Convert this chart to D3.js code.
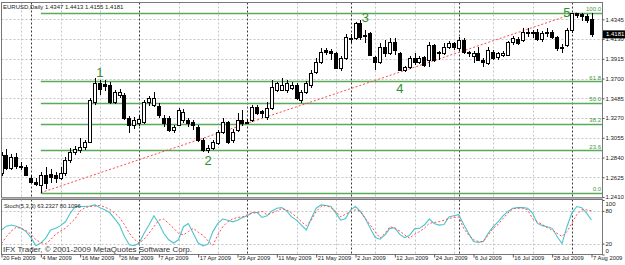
<!DOCTYPE html>
<html><head><meta charset="utf-8">
<script src="https://cdn.jsdelivr.net/npm/d3@7"></script>
<style>body{margin:0;background:#fff;} svg{display:block;font-family:"Liberation Sans",Arial,sans-serif;}</style>
</head><body>
<svg id="c" width="625" height="265"></svg>
<script>
const dates = [
"2009-02-20","2009-02-23","2009-02-24","2009-02-25","2009-02-26","2009-02-27",
"2009-03-02","2009-03-03","2009-03-04","2009-03-05","2009-03-06","2009-03-09","2009-03-10","2009-03-11","2009-03-12","2009-03-13",
"2009-03-16","2009-03-17","2009-03-18","2009-03-19","2009-03-20","2009-03-23","2009-03-24","2009-03-25","2009-03-26","2009-03-27",
"2009-03-30","2009-03-31","2009-04-01","2009-04-02","2009-04-03","2009-04-06","2009-04-07","2009-04-08","2009-04-09","2009-04-10",
"2009-04-13","2009-04-14","2009-04-15","2009-04-16","2009-04-17","2009-04-20","2009-04-21","2009-04-22","2009-04-23","2009-04-24",
"2009-04-27","2009-04-28","2009-04-29","2009-04-30","2009-05-01","2009-05-04","2009-05-05","2009-05-06","2009-05-07","2009-05-08",
"2009-05-11","2009-05-12","2009-05-13","2009-05-14","2009-05-15","2009-05-18","2009-05-19","2009-05-20","2009-05-21","2009-05-22",
"2009-05-25","2009-05-26","2009-05-27","2009-05-28","2009-05-29","2009-06-01","2009-06-02","2009-06-03","2009-06-04","2009-06-05",
"2009-06-08","2009-06-09","2009-06-10","2009-06-11","2009-06-12","2009-06-15","2009-06-16","2009-06-17","2009-06-18","2009-06-19",
"2009-06-22","2009-06-23","2009-06-24","2009-06-25","2009-06-26","2009-06-29","2009-06-30","2009-07-01","2009-07-02","2009-07-03",
"2009-07-06","2009-07-07","2009-07-08","2009-07-09","2009-07-10","2009-07-13","2009-07-14","2009-07-15","2009-07-16","2009-07-17",
"2009-07-20","2009-07-21","2009-07-22","2009-07-23","2009-07-24","2009-07-27","2009-07-28","2009-07-29","2009-07-30","2009-07-31",
"2009-08-03","2009-08-04","2009-08-05","2009-08-06","2009-08-07"];

const open = [
1.2671,1.2867,1.2730,1.2845,1.2740,1.2736,1.2617,1.2573,1.2540,1.2649,
1.2660,1.2649,1.2617,1.2671,1.2813,1.2900,1.2922,1.2954,1.3009,1.3444,
1.3651,1.3640,1.3629,1.3444,1.3520,1.3520,1.3270,1.3194,1.3215,1.3226,
1.3444,1.3412,1.3400,1.3270,1.3270,1.3139,1.3194,1.3250,1.3248,1.3226,
1.3172,1.3030,1.2922,1.2943,1.2998,1.3117,1.3226,1.3030,1.3139,1.3248,
1.3226,1.3248,1.3390,1.3346,1.3281,1.3379,1.3575,1.3575,1.3575,1.3600,
1.3629,1.3466,1.3553,1.3629,1.3771,1.3880,1.4011,1.4000,1.3978,1.3814,
1.3923,1.4130,1.4141,1.4305,1.4163,1.4196,1.3934,1.3880,1.4043,1.3978,
1.4098,1.3978,1.3793,1.3825,1.3923,1.3880,1.3934,1.3902,1.4065,1.3989,
1.3978,1.4043,1.4087,1.4032,1.4120,1.3989,1.3940,1.3978,1.3902,1.3869,
1.3989,1.3934,1.3956,1.3956,1.4098,1.4130,1.4120,1.4207,1.4196,1.4207,
1.4130,1.4207,1.4207,1.4152,1.4032,1.4065,1.4229,1.4414,1.4400,1.4381,
1.4347];
const high = [
1.2900,1.2930,1.2880,1.2890,1.2790,1.2760,1.2650,1.2620,1.2680,1.2736,
1.2710,1.2680,1.2736,1.2845,1.2943,1.2960,1.3050,1.3030,1.3488,1.3706,
1.3684,1.3680,1.3660,1.3580,1.3590,1.3540,1.3290,1.3280,1.3300,1.3470,
1.3510,1.3553,1.3430,1.3300,1.3290,1.3194,1.3379,1.3370,1.3270,1.3250,
1.3190,1.3050,1.2976,1.3030,1.3139,1.3270,1.3240,1.3150,1.3324,1.3357,
1.3260,1.3412,1.3410,1.3360,1.3444,1.3684,1.3662,1.3706,1.3680,1.3660,
1.3650,1.3570,1.3670,1.3793,1.3923,1.4032,1.4032,1.4020,1.3990,1.3950,
1.4180,1.4180,1.4316,1.4338,1.4229,1.4210,1.3950,1.4087,1.4120,1.4141,
1.4141,1.3990,1.3840,1.3950,1.3978,1.3950,1.3950,1.4098,1.4080,1.4000,
1.4087,1.4110,1.4100,1.4150,1.4141,1.4000,1.4000,1.4043,1.3920,1.4043,
1.4011,1.3989,1.4000,1.4110,1.4160,1.4152,1.4250,1.4250,1.4230,1.4240,
1.4220,1.4250,1.4230,1.4160,1.4080,1.4250,1.4418,1.4418,1.4417,1.4400,
1.4413];
const low = [
1.2640,1.2700,1.2700,1.2710,1.2700,1.2640,1.2560,1.2530,1.2457,1.2500,
1.2560,1.2560,1.2600,1.2640,1.2780,1.2870,1.2890,1.2920,1.2998,1.3412,
1.3520,1.3560,1.3420,1.3420,1.3490,1.3250,1.3107,1.3150,1.3180,1.3210,
1.3400,1.3390,1.3270,1.3172,1.3120,1.3107,1.3180,1.3220,1.3170,1.3139,
1.3010,1.2900,1.2890,1.2922,1.2980,1.3100,1.2990,1.2998,1.3120,1.3180,
1.3200,1.3230,1.3300,1.3270,1.3250,1.3360,1.3550,1.3560,1.3540,1.3570,
1.3470,1.3433,1.3530,1.3597,1.3750,1.3860,1.3960,1.3900,1.3800,1.3780,
1.3900,1.4090,1.4120,1.4120,1.4087,1.3940,1.3793,1.3860,1.3934,1.3960,
1.3956,1.3780,1.3770,1.3800,1.3847,1.3860,1.3825,1.3825,1.3880,1.3902,
1.3960,1.4020,1.4010,1.4000,1.3970,1.3934,1.3869,1.3890,1.3825,1.3847,
1.3900,1.3902,1.3930,1.3940,1.4070,1.4070,1.4100,1.4152,1.4140,1.4110,
1.4100,1.4152,1.4130,1.4000,1.3980,1.4040,1.4200,1.4360,1.4330,1.4300,
1.4155];
const close = [
1.2867,1.2730,1.2845,1.2750,1.2745,1.2649,1.2573,1.2551,1.2649,1.2560,
1.2627,1.2617,1.2671,1.2813,1.2900,1.2935,1.2954,1.3009,1.3466,1.3651,
1.3590,1.3618,1.3444,1.3553,1.3553,1.3270,1.3194,1.3248,1.3260,1.3444,
1.3488,1.3488,1.3300,1.3215,1.3139,1.3172,1.3357,1.3340,1.3215,1.3194,
1.3030,1.2922,1.2943,1.3009,1.3117,1.3226,1.3009,1.3117,1.3248,1.3215,
1.3230,1.3390,1.3324,1.3324,1.3379,1.3608,1.3651,1.3629,1.3651,1.3629,
1.3488,1.3553,1.3651,1.3760,1.3880,1.3989,1.3989,1.3978,1.3814,1.3923,
1.4152,1.4141,1.4305,1.4152,1.4174,1.3956,1.3880,1.4043,1.3978,1.4098,
1.4011,1.3793,1.3825,1.3923,1.3880,1.3923,1.3847,1.4065,1.3902,1.3978,
1.4043,1.4087,1.4043,1.4120,1.3989,1.3978,1.3978,1.3902,1.3880,1.4011,
1.3923,1.3978,1.3978,1.4098,1.4141,1.4087,1.4207,1.4196,1.4207,1.4130,
1.4196,1.4196,1.4152,1.4032,1.4043,1.4229,1.4414,1.4392,1.4381,1.4337,
1.4181];

const stochK = [
45,52,54,52,48,42,31,16,21,30, 45,48,53,60,76,88,88,88,89,91,
86,82,77,66,54,33,18,16,21,39, 54,71,57,39,27,21,27,51,57,39,
21,16,19,42,57,65,63,60,63,68, 71,77,77,68,71,80,85,86,80,69,
63,54,45,66,85,91,90,88,76,63, 66,82,88,79,66,48,31,28,36,48,
49,37,31,35,47,48,54,65,57,54, 55,69,71,73,55,39,24,22,24,39,
51,60,71,79,85,86,86,85,76,57, 53,51,48,33,20,51,76,88,86,76,
63.2327];
const stochD = [
20,33,43,50,48,44,37,27,22,20, 27,37,43,48,57,66,80,86,88,89,
90,87,83,76,68,55,39,28,21,28, 39,51,63,65,57,48,39,36,42,48,
41,35,25,17,36,51,60,65,68,69, 73,76,77,79,73,76,80,84,82,76,
69,60,53,63,79,88,90,86,79,69, 74,79,82,79,66,54,42,30,39,51,
48,43,36,30,37,42,48,57,59,60, 63,66,68,69,48,36,27,24,24,36,
48,55,66,76,84,85,85,82,66,60, 55,49,45,39,33,42,57,73,82,82,
80.1096];

const priceTicks = [1.2410,1.2625,1.2840,1.3055,1.3270,1.3485,1.3700,1.3915,1.4130,1.4345];
const dateTickIdx = [0,8,16,24,32,40,48,56,64,72,80,88,96,104,112,120];
const dateTickLabels = ["20 Feb 2009","4 Mar 2009","16 Mar 2009","26 Mar 2009","7 Apr 2009","17 Apr 2009",
 "29 Apr 2009","11 May 2009","21 May 2009","2 Jun 2009","12 Jun 2009","24 Jun 2009","6 Jul 2009",
 "16 Jul 2009","28 Jul 2009","7 Aug 2009"];
const gridIdx = [4,12,20,36,44,60,68,76,84,92,100,108];
const monthStartIdx = [6,28,50,71,93,116];
const fibLevels = [0,23.6,38.2,50,61.8,100];
const fibLabels = ["0.0","23.6","38.2","50.0","61.8","100.0"];
const fibLow = 1.2457, fibHigh = 1.4417, fibStartIdx = 8;
const trendIdx = [8,117], trendPrice = [1.2457,1.4417];
const waveLabels = ["1","2","3","4","5"];
const waveIdx = [20,42,74,81,115];
const wavePrice = [1.3717,1.2758,1.4319,1.3543,1.4373];
const stochLevels = [20,80];
const stochAxisVals = [100,80,20,0];
const lastPrice = 1.4181;

const svg = d3.select("#c");
const xL = 1.5, xR = 602.5, mainTop = 2.5, mainBot = 197.5, stTop = 199.5, stBot = 254.5;
const x = d3.scalePoint().domain(dates).range([1.5, 591.5]);
const y = d3.scaleLinear().domain([1.2410, 1.4345]).range([197, 19.3]);
const ys = d3.scaleLinear().domain([0, 100]).range([254.5, 200]);
const px = v => Math.round(v) + 0.5;

const defs = svg.append("defs");
defs.append("clipPath").attr("id","cm").append("rect").attr("x",xL).attr("y",mainTop).attr("width",xR-xL).attr("height",mainBot-mainTop);
defs.append("clipPath").attr("id","cs").append("rect").attr("x",xL).attr("y",stTop).attr("width",xR-xL).attr("height",stBot-stTop);

const gm = svg.append("g").attr("clip-path","url(#cm)");
const gs = svg.append("g").attr("clip-path","url(#cs)");
const gridCol = "#c4c4c4";

// horizontal price grid
gm.selectAll(".hg").data(priceTicks).join("line")
  .attr("x1",xL).attr("x2",xR).attr("y1",d=>px(y(d))).attr("y2",d=>px(y(d)))
  .attr("stroke",gridCol).attr("stroke-dasharray","2,2");
// vertical grid both panels
[[gm,mainTop,mainBot],[gs,stTop,stBot]].forEach(([g,t,b])=>{
  g.selectAll(".vg").data(gridIdx).join("line")
    .attr("x1",d=>px(x(dates[d]))).attr("x2",d=>px(x(dates[d]))).attr("y1",t).attr("y2",b)
    .attr("stroke",gridCol).attr("stroke-dasharray","2,2");
  g.selectAll(".ms").data(monthStartIdx).join("line")
    .attr("x1",d=>px(x(dates[d]))).attr("x2",d=>px(x(dates[d]))).attr("y1",t).attr("y2",b)
    .attr("stroke","#3a3a3a").attr("stroke-dasharray","2,2");
});
// stoch levels
gs.selectAll(".sl").data(stochLevels).join("line")
  .attr("x1",xL).attr("x2",xR).attr("y1",d=>px(ys(d))).attr("y2",d=>px(ys(d)))
  .attr("stroke",gridCol).attr("stroke-dasharray","2,2");

// fib lines
const fibY = l => y(fibLow + (fibHigh - fibLow) * l / 100);
gm.selectAll(".fib").data(fibLevels).join("line")
  .attr("x1",x(dates[fibStartIdx])).attr("x2",xR).attr("y1",d=>px(fibY(d))).attr("y2",d=>px(fibY(d)))
  .attr("stroke","#5aaa5a").attr("stroke-width",1.3);
gm.selectAll(".fibt").data(fibLevels).join("text")
  .attr("x",601).attr("y",d=>fibY(d)-1.5).attr("text-anchor","end")
  .attr("font-size",6).attr("fill","#3f963f").text((d,i)=>fibLabels[i]);

// trend line
gm.append("line")
  .attr("x1",x(dates[trendIdx[0]])).attr("y1",y(trendPrice[0]))
  .attr("x2",x(dates[trendIdx[1]])).attr("y2",y(trendPrice[1]))
  .attr("stroke","#ff4a4a").attr("stroke-dasharray","2,2").attr("stroke-width",1);

// candles
const idx = d3.range(dates.length);
const cg = gm.append("g").attr("shape-rendering","crispEdges");
cg.selectAll(".w").data(idx).join("line")
  .attr("x1",i=>px(x(dates[i]))).attr("x2",i=>px(x(dates[i])))
  .attr("y1",i=>y(high[i])).attr("y2",i=>y(low[i])).attr("stroke","#000");
cg.selectAll(".b").data(idx).join("rect")
  .attr("x",i=>Math.round(x(dates[i]))-1.5).attr("width",3)
  .attr("y",i=>Math.round(y(Math.max(open[i],close[i])))+0.5)
  .attr("height",i=>Math.max(1,Math.round(Math.abs(y(open[i])-y(close[i])))))
  .attr("fill",i=>close[i]>=open[i]?"#fff":"#000").attr("stroke","#000");

// wave labels
gm.selectAll(".wv").data(waveLabels).join("text")
  .attr("x",(d,i)=>x(dates[waveIdx[i]])).attr("y",(d,i)=>y(wavePrice[i]))
  .attr("text-anchor","middle").attr("font-size",13).attr("fill","#2f8f2f").text(d=>d);

// stoch lines
gs.append("path").datum(idx).attr("fill","none").attr("stroke","#4cc4cc").attr("stroke-width",1.1)
  .attr("d",d3.line().x(i=>x(dates[i])).y(i=>ys(stochK[i])));
gs.append("path").datum(idx).attr("fill","none").attr("stroke","#ff4c4c").attr("stroke-width",1)
  .attr("stroke-dasharray","2,2")
  .attr("d",d3.line().x(i=>x(dates[i])).y(i=>ys(stochD[i])));

// frames
svg.append("rect").attr("x",xL).attr("y",mainTop).attr("width",xR-xL).attr("height",mainBot-mainTop)
  .attr("fill","none").attr("stroke","#777");
svg.append("rect").attr("x",xL).attr("y",197.5).attr("width",xR-xL).attr("height",2).attr("fill","#b0b0b0");
svg.append("rect").attr("x",xL).attr("y",stTop).attr("width",xR-xL).attr("height",stBot-stTop)
  .attr("fill","none").attr("stroke","#777");

// price axis
const pa = svg.append("g").attr("transform",`translate(${xR},0)`)
  .call(d3.axisRight(y).tickValues(priceTicks).tickSize(2).tickFormat(d3.format(".4f")));
pa.select(".domain").remove();
pa.selectAll("text").attr("x",3).attr("font-size",6).attr("fill","#222").attr("font-family","Liberation Sans, Arial");
pa.selectAll("line").attr("stroke","#555");

// current price box
svg.append("rect").attr("x",603).attr("y",y(lastPrice)-4).attr("width",22).attr("height",8).attr("fill","#000");
svg.append("text").attr("x",606).attr("y",y(lastPrice)+2).attr("font-size",6).attr("fill","#fff").text(d3.format(".4f")(lastPrice));

// stoch axis
const sa = svg.append("g").attr("transform",`translate(${xR},0)`)
  .call(d3.axisRight(ys).tickValues(stochAxisVals).tickSize(2).tickFormat(d3.format("d")));
sa.select(".domain").remove();
sa.selectAll("text").attr("x",3).attr("font-size",6).attr("fill","#222").attr("font-family","Liberation Sans, Arial")
  .attr("dy",d=>d===100?"0.9em":d===0?"-0.35em":"0.32em");
sa.selectAll("line").attr("stroke","#555");

// date axis
const da = svg.append("g").attr("transform",`translate(0,${stBot})`)
  .call(d3.axisBottom(x).tickValues(dateTickIdx.map(i=>dates[i])).tickSize(3)
    .tickFormat((d,i)=>dateTickLabels[i]));
da.select(".domain").remove();
da.selectAll("text").attr("text-anchor","start").attr("x",1).attr("y",1.5).attr("font-size",5.8)
  .attr("fill","#222").attr("font-family","Liberation Sans, Arial");
da.selectAll("line").attr("stroke","#555");

// titles
svg.append("text").attr("x",3).attr("y",8.5).attr("font-size",6).attr("fill","#222")
  .text("EURUSD,Daily  1.4347 1.4413 1.4155 1.4181");
svg.append("text").attr("x",4).attr("y",208).attr("font-size",5.8).attr("fill","#222")
  .text("Stoch(5,3,3) 63.2327 80.1096");
svg.append("text").attr("x",3).attr("y",251.5).attr("font-size",7.2).attr("fill","#333")
  .attr("textLength",189).attr("lengthAdjust","spacingAndGlyphs")
  .text("IFX Trader, © 2001-2009 MetaQuotes Software Corp.");
</script>
</body></html>
